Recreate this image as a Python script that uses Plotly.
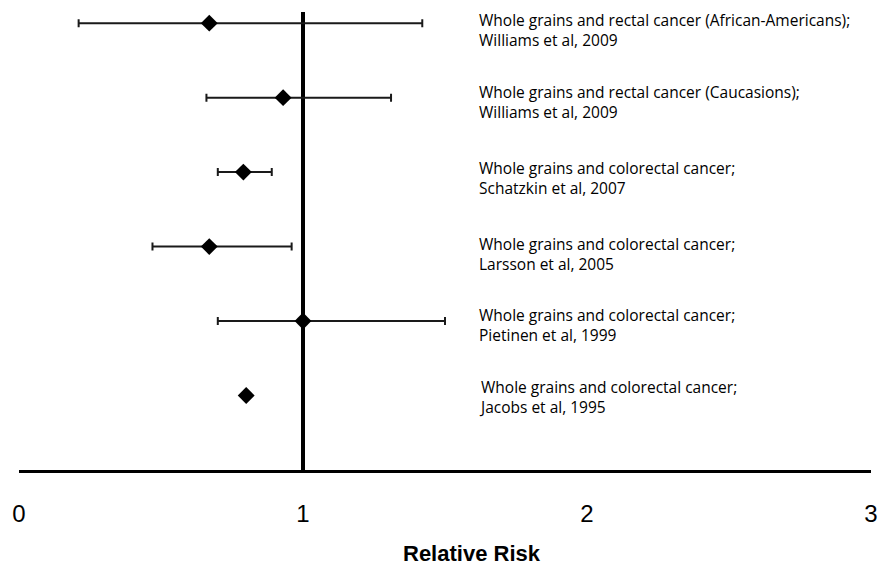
import plotly.graph_objects as go

studies = [
    "Whole grains and rectal cancer (African-Americans);<br>Williams et al, 2009",
    "Whole grains and rectal cancer (Caucasions);<br>Williams et al, 2009",
    "Whole grains and colorectal cancer;<br>Schatzkin et al, 2007",
    "Whole grains and colorectal cancer;<br>Larsson et al, 2005",
    "Whole grains and colorectal cancer;<br>Pietinen et al, 1999",
    "Whole grains and colorectal cancer;<br>Jacobs et al, 1995",
]
rr = [0.67, 0.93, 0.79, 0.67, 1.00, 0.80]
ci_low = [0.21, 0.66, 0.70, 0.47, 0.70, None]
ci_high = [1.42, 1.31, 0.89, 0.96, 1.50, None]
row_pos = [6, 5, 4, 3, 2, 1]
x_ticks = [0, 1, 2, 3]
ref_value = 1
x_title = "Relative Risk"

err_plus = [(h - v) if h is not None else 0 for v, h in zip(rr, ci_high)]
err_minus = [(v - l) if l is not None else 0 for v, l in zip(rr, ci_low)]

fig = go.Figure()
fig.add_trace(go.Scatter(
    x=rr, y=row_pos, mode="markers",
    marker=dict(symbol="diamond", size=13, color="black"),
    error_x=dict(type="data", symmetric=False, array=err_plus, arrayminus=err_minus,
                 color="#1a1a1a", thickness=2, width=4),
    showlegend=False, hoverinfo="skip",
))

fig.add_shape(type="line", x0=ref_value, x1=ref_value, y0=0, y1=1,
              xref="x", yref="paper", line=dict(color="black", width=4), layer="below")

yshifts = [-7, -4, -6, -7, -4, -1]
for s, y, ys in zip(studies, row_pos, yshifts):
    fig.add_annotation(x=1.613, y=y, text=s, showarrow=False, xanchor="left",
                       yanchor="middle", align="left", yshift=ys,
                       font=dict(family="Open Sans", size=15.5, color="black"))

fig.add_annotation(x=0.5315, y=-0.1834, xref="paper", yref="paper",
                   text="<b>" + x_title + "</b>", showarrow=False,
                   xanchor="center", yanchor="middle",
                   font=dict(family="Liberation Sans", size=22, color="black"))

fig.update_layout(
    width=879, height=559,
    margin=dict(l=7, r=16, t=4, b=97),
    plot_bgcolor="white", paper_bgcolor="white",
    xaxis=dict(range=[0, 3], tickvals=x_ticks, ticktext=[str(t) for t in x_ticks],
               showgrid=False, zeroline=False, showline=True, linecolor="black",
               linewidth=3, ticks="", ticklabelstandoff=20, ticklabeloverflow="allow",
               tickfont=dict(family="Liberation Sans", size=24, color="black")),
    yaxis=dict(range=[0, 6.15], visible=False, showgrid=False, zeroline=False),
)

fig.write_html("out.html", config={"displayModeBar": False},
               post_script="document.body.style.overflow='hidden';")
